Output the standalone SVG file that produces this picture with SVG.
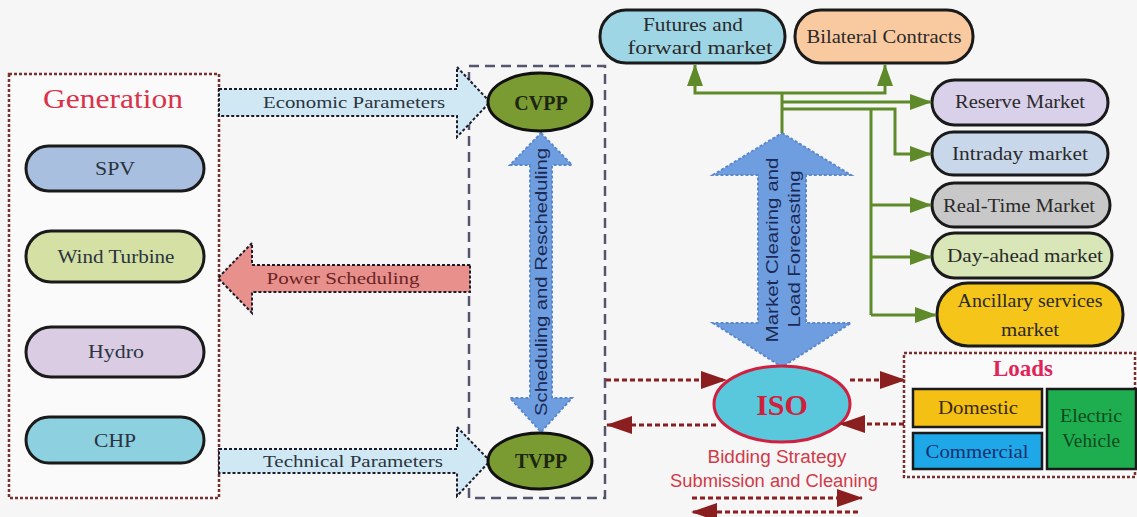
<svg xmlns="http://www.w3.org/2000/svg" width="1137" height="517" viewBox="0 0 1137 517">
<defs>
<style>
.serif{font-family:"Liberation Serif","DejaVu Serif",serif;}
.sans{font-family:"Liberation Sans","DejaVu Sans",sans-serif;}
.pill{stroke:#1a1a1a;stroke-width:3;}
.ptxt{font-family:"Liberation Serif","DejaVu Serif",serif;font-size:19px;fill:#2b3440;text-anchor:middle;}
.mtxt{font-family:"Liberation Serif","DejaVu Serif",serif;font-size:18px;fill:#2a2a2a;text-anchor:middle;}
.dotted{stroke:#1c1c2a;stroke-width:2;stroke-dasharray:3 2;}
.green{fill:none;stroke:#5f8a2a;stroke-width:3;}
.red{fill:none;stroke:#8b1e1e;stroke-width:3;stroke-dasharray:5 3;}
.blue{fill:#6f9ee0;stroke:#5a88cc;stroke-width:2;stroke-dasharray:3 2;}
</style>
<marker id="ga" viewBox="0 0 22 16" refX="21" refY="8" markerWidth="22" markerHeight="16" markerUnits="userSpaceOnUse" orient="auto">
<path d="M0,0 L22,8 L0,16 z" fill="#5f8a2a"/>
</marker>
<marker id="ra" viewBox="0 0 26 18" refX="25" refY="9" markerWidth="26" markerHeight="18" markerUnits="userSpaceOnUse" orient="auto">
<path d="M0,0 L26,9 L0,18 z" fill="#8b1e1e"/>
</marker>
</defs>
<rect width="1137" height="517" fill="#f6f6f6"/>

<g id="generation">
<rect x="9" y="74" width="210" height="424" fill="#fafafa" stroke="#7a3030" stroke-width="2.5" stroke-dasharray="3 2"/>
<text x="113" y="108" class="serif" font-size="28" fill="#d9324a" text-anchor="middle" textLength="140" lengthAdjust="spacingAndGlyphs">Generation</text>
</g>
<g id="spv">
<rect x="26" y="146" width="178" height="45" rx="22.5" fill="#a9bfdf" class="pill"/>
<text x="115" y="175" class="ptxt" textLength="40" lengthAdjust="spacingAndGlyphs">SPV</text>
</g>
<g id="wind">
<rect x="26" y="231" width="178" height="51" rx="25" fill="#d4e0a4" class="pill"/>
<text x="116" y="263" class="ptxt" textLength="117" lengthAdjust="spacingAndGlyphs">Wind Turbine</text>
</g>
<g id="hydro">
<rect x="26" y="327" width="178" height="50" rx="25" fill="#d9cce3" class="pill"/>
<text x="116" y="358" class="ptxt" textLength="56" lengthAdjust="spacingAndGlyphs">Hydro</text>
</g>
<g id="chp">
<rect x="26" y="417" width="178" height="46" rx="23" fill="#8dd0df" class="pill"/>
<text x="115" y="447" class="ptxt" textLength="42" lengthAdjust="spacingAndGlyphs">CHP</text>
</g>

<g id="vpp-box">
<rect x="469" y="66" width="136" height="432" fill="none" stroke="#555570" stroke-width="2.5" stroke-dasharray="10 6"/>
</g>

<g id="economic">
<polygon points="219,89 457,89 457,67 490,102 457,137 457,116 219,116" fill="#cfe8f3" class="dotted"/>
<text x="354" y="108" class="serif" font-size="17" fill="#2b3440" text-anchor="middle" textLength="182" lengthAdjust="spacingAndGlyphs">Economic Parameters</text>
</g>
<g id="technical">
<polygon points="219,449 457,449 457,427 490,461 457,496 457,473 219,473" fill="#cfe8f3" class="dotted"/>
<text x="353" y="467" class="serif" font-size="17" fill="#2b3440" text-anchor="middle" textLength="180" lengthAdjust="spacingAndGlyphs">Technical Parameters</text>
</g>
<g id="power">
<polygon points="470,265 252,265 252,243 218,278 252,313 252,292 470,292" fill="#e8908c" class="dotted"/>
<text x="343" y="284" class="serif" font-size="17" fill="#6a2424" text-anchor="middle" textLength="153" lengthAdjust="spacingAndGlyphs">Power Scheduling</text>
</g>

<g id="scheduling">
<polygon points="541,133 572,165 552,165 552,398 572,398 541,432 510,398 530,398 530,165 510,165" class="blue"/>
<text transform="translate(547,282) rotate(-90)" class="sans" font-size="17" fill="#1a2a55" text-anchor="middle" textLength="268" lengthAdjust="spacingAndGlyphs">Scheduling and Rescheduling</text>
</g>

<g id="cvpp">
<ellipse cx="540" cy="102" rx="52" ry="29" fill="#7a9a32" stroke="#111" stroke-width="3"/>
<text x="541" y="110" class="serif" font-size="20" font-weight="bold" fill="#1c2610" text-anchor="middle">CVPP</text>
</g>
<g id="tvpp">
<ellipse cx="540" cy="461" rx="52" ry="28" fill="#7a9a32" stroke="#111" stroke-width="3"/>
<text x="541" y="468" class="serif" font-size="20" font-weight="bold" fill="#1c2610" text-anchor="middle">TVPP</text>
</g>

<g id="market-clearing">
<polygon points="782,133 851,175 806,175 806,323 851,323 782,367 713,323 758,323 758,175 713,175" class="blue"/>
<text transform="translate(778,250) rotate(-90)" class="sans" font-size="17" fill="#1a2a55" text-anchor="middle" textLength="185" lengthAdjust="spacingAndGlyphs">Market Clearing and</text>
<text transform="translate(800,249) rotate(-90)" class="sans" font-size="17" fill="#1a2a55" text-anchor="middle" textLength="157" lengthAdjust="spacingAndGlyphs">Load Forecasting</text>
</g>

<g id="futures">
<rect x="600" y="10" width="185" height="53" rx="26" fill="#9fd6e6" class="pill"/>
<text x="693" y="31" class="mtxt" textLength="100" lengthAdjust="spacingAndGlyphs">Futures and</text>
<text x="700" y="54" class="mtxt" textLength="145" lengthAdjust="spacingAndGlyphs">forward market</text>
</g>
<g id="bilateral">
<rect x="795" y="10" width="178" height="53" rx="26" fill="#f9c9a0" class="pill"/>
<text x="884" y="43" class="mtxt" textLength="155" lengthAdjust="spacingAndGlyphs">Bilateral Contracts</text>
</g>
<g id="reserve">
<rect x="932" y="80" width="176" height="45" rx="22.5" fill="#d9d0ea" class="pill"/>
<text x="1020" y="108" class="mtxt" textLength="130" lengthAdjust="spacingAndGlyphs">Reserve Market</text>
</g>
<g id="intraday">
<rect x="932" y="132" width="176" height="43" rx="21.5" fill="#c8d8ea" class="pill"/>
<text x="1020" y="160" class="mtxt" textLength="136" lengthAdjust="spacingAndGlyphs">Intraday market</text>
</g>
<g id="realtime">
<rect x="932" y="183" width="178" height="44" rx="22" fill="#c8c8c8" class="pill"/>
<text x="1019" y="212" class="mtxt" textLength="152" lengthAdjust="spacingAndGlyphs">Real-Time Market</text>
</g>
<g id="dayahead">
<rect x="932" y="233" width="180" height="45" rx="22.5" fill="#d8e6b8" class="pill"/>
<text x="1025" y="262" class="mtxt" textLength="156" lengthAdjust="spacingAndGlyphs">Day-ahead market</text>
</g>
<g id="ancillary">
<rect x="937" y="283" width="186" height="63" rx="31" fill="#f6c51a" class="pill"/>
<text x="1030" y="307" class="mtxt" textLength="145" lengthAdjust="spacingAndGlyphs">Ancillary services</text>
<text x="1030" y="336" class="mtxt" textLength="58" lengthAdjust="spacingAndGlyphs">market</text>
</g>

<g id="iso">
<ellipse cx="782" cy="404" rx="68" ry="38" fill="#5ac8dc" stroke="#d02040" stroke-width="3"/>
<text x="782" y="415" class="serif" font-size="30" font-weight="bold" fill="#d0203c" text-anchor="middle">ISO</text>
<text x="777" y="463" class="sans" font-size="18" fill="#d23a48" text-anchor="middle" textLength="139" lengthAdjust="spacingAndGlyphs">Bidding Strategy</text>
<text x="774" y="487" class="sans" font-size="18" fill="#d23a48" text-anchor="middle" textLength="208" lengthAdjust="spacingAndGlyphs">Submission and Cleaning</text>
</g>

<g id="loads">
<rect x="904" y="353" width="231" height="124" fill="#fafafa" stroke="#7a3030" stroke-width="2.5" stroke-dasharray="3 2"/>
<text x="1023" y="376" class="serif" font-size="23" font-weight="bold" fill="#e0245a" text-anchor="middle">Loads</text>
</g>
<g id="domestic">
<rect x="913" y="389" width="129" height="38" fill="#f5c014" stroke="#1a1a1a" stroke-width="2.5"/>
<text x="978" y="414" class="serif" font-size="19" fill="#3a2a10" text-anchor="middle" textLength="80" lengthAdjust="spacingAndGlyphs">Domestic</text>
</g>
<g id="commercial">
<rect x="913" y="433" width="129" height="36" fill="#1ea8e8" stroke="#1a1a1a" stroke-width="2.5"/>
<text x="977" y="458" class="serif" font-size="19" fill="#143070" text-anchor="middle" textLength="103" lengthAdjust="spacingAndGlyphs">Commercial</text>
</g>
<g id="ev">
<rect x="1047" y="389" width="89" height="80" fill="#1fae4f" stroke="#1a1a1a" stroke-width="2.5"/>
<text x="1091" y="422" class="serif" font-size="19" fill="#0c4a1e" text-anchor="middle" textLength="62" lengthAdjust="spacingAndGlyphs">Electric</text>
<text x="1091" y="447" class="serif" font-size="19" fill="#0c4a1e" text-anchor="middle" textLength="58" lengthAdjust="spacingAndGlyphs">Vehicle</text>
</g>

<g id="connectors">
<path class="green" d="M782,133 V93"/>
<path class="green" d="M782,93 H695 V65" marker-end="url(#ga)"/>
<path class="green" d="M782,93 H885 V65" marker-end="url(#ga)"/>
<path class="green" d="M782,102 H931" marker-end="url(#ga)"/>
<path class="green" d="M782,109 H895 V154 H931" marker-end="url(#ga)"/>
<path class="green" d="M871,109 V315"/>
<path class="green" d="M871,205 H931" marker-end="url(#ga)"/>
<path class="green" d="M871,257 H931" marker-end="url(#ga)"/>
<path class="green" d="M871,315 H936" marker-end="url(#ga)"/>
<path class="red" d="M606,380 H726" marker-end="url(#ra)"/>
<path class="red" d="M716,425 H607" marker-end="url(#ra)"/>
<path class="red" d="M850,380 H905" marker-end="url(#ra)"/>
<path class="red" d="M904,424 H840" marker-end="url(#ra)"/>
<path class="red" d="M692,498 H862" marker-end="url(#ra)"/>
<path class="red" d="M858,512 H692" marker-end="url(#ra)"/>
</g>
</svg>
